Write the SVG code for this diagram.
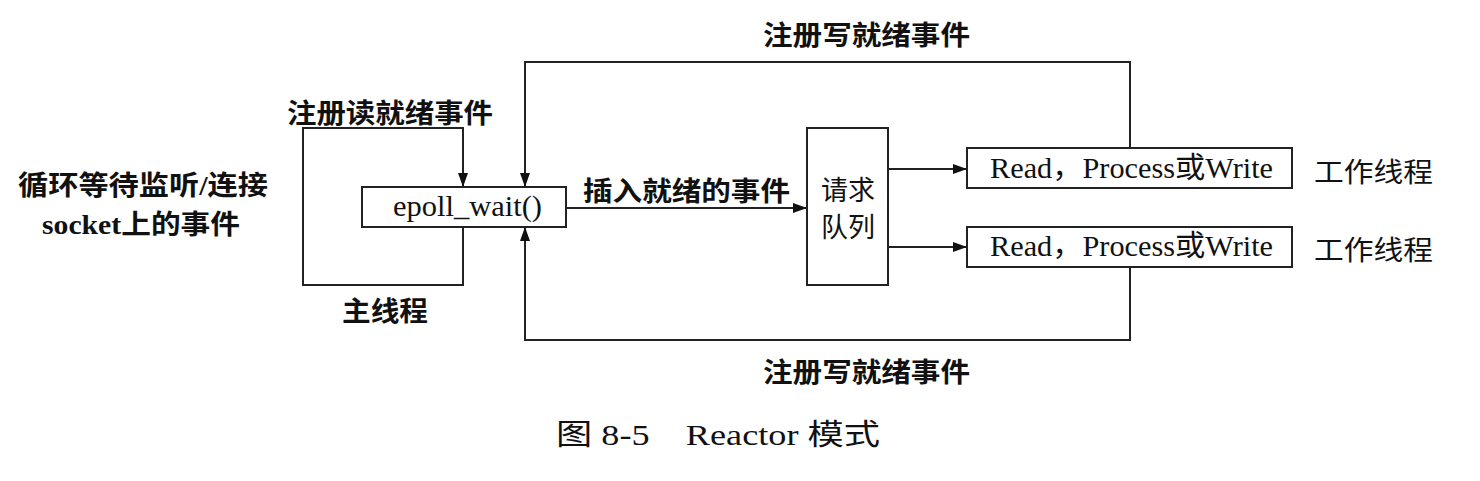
<svg xmlns="http://www.w3.org/2000/svg" width="1480" height="481" viewBox="0 0 1480 481">
<style>
.box{fill:#fff;stroke:#222;stroke-width:2}
.ln{fill:none;stroke:#222;stroke-width:2}
.lbl{font-family:"Noto Sans CJK SC",sans-serif;font-weight:bold;font-size:27px;fill:#111;dominant-baseline:central}
.ser{font-family:"Liberation Serif","Noto Sans CJK SC",serif;font-size:29px;fill:#111;dominant-baseline:central}
.mix{font-family:"Liberation Serif","Noto Sans CJK SC",serif;font-weight:bold;font-size:27px;fill:#111;dominant-baseline:central}
.cjk{font-family:"Noto Sans CJK SC",sans-serif;font-size:27px;fill:#111;dominant-baseline:central}
</style>
<defs>
<marker id="ah" markerWidth="14" markerHeight="10" refX="13" refY="5" orient="auto" markerUnits="userSpaceOnUse">
<path d="M0,0 L14,5 L0,10 Z" fill="#111"/>
</marker>
</defs>
<rect width="1480" height="481" fill="#fff"/>
<g id="connectors">
<path class="ln" d="M463,227 V285 H303 V128 H463 V186" marker-end="url(#ah)"/>
<path class="ln" d="M1130,148 V62 H525 V186" marker-end="url(#ah)"/>
<path class="ln" d="M1130,267 V340 H525 V228" marker-end="url(#ah)"/>
<path class="ln" d="M566,208 H806" marker-end="url(#ah)"/>
<path class="ln" d="M888,169 H966" marker-end="url(#ah)"/>
<path class="ln" d="M888,247 H966" marker-end="url(#ah)"/>
</g>
<g id="epoll">
<rect class="box" x="362" y="187" width="204" height="40"/>
<text class="ser" x="393" y="206" textLength="149" lengthAdjust="spacingAndGlyphs">epoll_wait()</text>
</g>
<g id="queue">
<rect class="box" x="807" y="128" width="81" height="157"/>
<text class="cjk" x="848" y="188" text-anchor="middle">请求</text>
<text class="cjk" x="848" y="225" text-anchor="middle">队列</text>
</g>
<g id="worker1">
<rect class="box" x="967" y="148" width="325" height="40"/>
<text class="ser" x="990" y="168" textLength="283" lengthAdjust="spacingAndGlyphs">Read，Process或Write</text>
<text class="cjk" x="1314" y="170" textLength="119" lengthAdjust="spacingAndGlyphs">工作线程</text>
</g>
<g id="worker2">
<rect class="box" x="967" y="227" width="325" height="40"/>
<text class="ser" x="990" y="246" textLength="283" lengthAdjust="spacingAndGlyphs">Read，Process或Write</text>
<text class="cjk" x="1314" y="248" textLength="119" lengthAdjust="spacingAndGlyphs">工作线程</text>
</g>
<g id="labels">
<text class="lbl" x="763" y="33" textLength="207" lengthAdjust="spacingAndGlyphs">注册写就绪事件</text>
<text class="lbl" x="763" y="370" textLength="207" lengthAdjust="spacingAndGlyphs">注册写就绪事件</text>
<text class="lbl" x="287" y="111" textLength="206" lengthAdjust="spacingAndGlyphs">注册读就绪事件</text>
<text class="lbl" x="342" y="309" textLength="86" lengthAdjust="spacingAndGlyphs">主线程</text>
<text class="lbl" x="583" y="189" textLength="207" lengthAdjust="spacingAndGlyphs">插入就绪的事件</text>
<text class="mix" x="18" y="186" textLength="250" lengthAdjust="spacingAndGlyphs">循环等待监听/连接</text>
<text class="mix" x="42" y="225" textLength="198" lengthAdjust="spacingAndGlyphs">socket上的事件</text>
<text class="ser" x="556" y="435" textLength="324" lengthAdjust="spacingAndGlyphs" xml:space="preserve">图 8-5    Reactor 模式</text>
</g>
</svg>
